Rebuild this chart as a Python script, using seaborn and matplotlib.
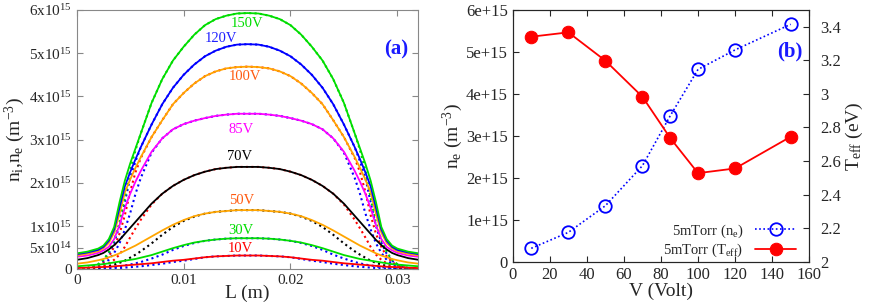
import numpy as np
import pandas as pd
import matplotlib
matplotlib.use("Agg")
import matplotlib.pyplot as plt
import seaborn as sns

# ---- (a) density profiles, values in 1e15 m^-3 ----
L_m = [0.0, 0.001, 0.002, 0.0025, 0.003, 0.0035, 0.004, 0.0045, 0.005, 0.0055, 0.006,
       0.007, 0.008, 0.009, 0.010, 0.011, 0.012, 0.013, 0.014, 0.015, 0.016,
       0.017, 0.018, 0.019, 0.020, 0.021, 0.022, 0.023, 0.024, 0.025, 0.026,
       0.0265, 0.027, 0.0275, 0.028, 0.0285, 0.029, 0.0295, 0.030, 0.031, 0.032]

ni_150 = [0.37, 0.41, 0.48, 0.55, 0.70, 0.98, 1.55, 2.05, 2.45, 2.80, 3.15, 3.85, 4.40, 4.83,
          5.15, 5.43, 5.65, 5.79, 5.87, 5.92, 5.93,
          5.92, 5.87, 5.79, 5.65, 5.43, 5.15, 4.83, 4.40, 3.85, 3.15, 2.80, 2.45, 2.05, 1.55,
          0.98, 0.70, 0.55, 0.48, 0.41, 0.37]
ni_120 = [0.35, 0.39, 0.45, 0.52, 0.66, 0.92, 1.42, 1.92, 2.25, 2.55, 2.83, 3.35, 3.82, 4.20,
          4.50, 4.74, 4.93, 5.06, 5.15, 5.20, 5.21,
          5.20, 5.15, 5.06, 4.93, 4.74, 4.50, 4.20, 3.82, 3.35, 2.83, 2.55, 2.25, 1.92, 1.42,
          0.92, 0.66, 0.52, 0.45, 0.39, 0.35]
ni_100 = [0.32, 0.36, 0.42, 0.49, 0.61, 0.85, 1.28, 1.78, 2.08, 2.35, 2.60, 3.06, 3.45, 3.82,
          4.08, 4.30, 4.47, 4.58, 4.65, 4.68, 4.69,
          4.68, 4.65, 4.58, 4.47, 4.30, 4.08, 3.82, 3.45, 3.06, 2.60, 2.35, 2.08, 1.78, 1.28,
          0.85, 0.61, 0.49, 0.42, 0.36, 0.32]
ni_85 = [0.29, 0.32, 0.38, 0.44, 0.52, 0.70, 1.02, 1.42, 1.75, 2.03, 2.28, 2.72, 3.03, 3.24,
         3.36, 3.44, 3.50, 3.55, 3.58, 3.60, 3.60,
         3.60, 3.58, 3.55, 3.50, 3.44, 3.36, 3.24, 3.03, 2.72, 2.28, 2.03, 1.75, 1.42, 1.02,
         0.70, 0.52, 0.44, 0.38, 0.32, 0.29]
ni_70 = [0.22, 0.26, 0.33, 0.38, 0.46, 0.56, 0.68, 0.82, 0.96, 1.10, 1.24, 1.52, 1.75, 1.93,
         2.07, 2.18, 2.26, 2.32, 2.35, 2.37, 2.37,
         2.37, 2.35, 2.32, 2.26, 2.18, 2.07, 1.93, 1.75, 1.52, 1.24, 1.10, 0.96, 0.82, 0.68,
         0.56, 0.46, 0.38, 0.33, 0.26, 0.22]
ni_50 = [0.13, 0.16, 0.21, 0.24, 0.28, 0.32, 0.37, 0.43, 0.49, 0.55, 0.62, 0.76, 0.90, 1.03,
         1.14, 1.23, 1.29, 1.33, 1.35, 1.37, 1.37,
         1.37, 1.35, 1.33, 1.29, 1.23, 1.14, 1.03, 0.90, 0.76, 0.62, 0.55, 0.49, 0.43, 0.37,
         0.32, 0.28, 0.24, 0.21, 0.16, 0.13]
ni_30 = [0.07, 0.09, 0.11, 0.12, 0.14, 0.16, 0.18, 0.20, 0.22, 0.24, 0.27, 0.33, 0.41, 0.49,
         0.56, 0.62, 0.66, 0.69, 0.71, 0.72, 0.72,
         0.72, 0.71, 0.69, 0.66, 0.62, 0.56, 0.49, 0.41, 0.33, 0.27, 0.24, 0.22, 0.20, 0.18,
         0.16, 0.14, 0.12, 0.11, 0.09, 0.07]
ni_10 = [0.03, 0.04, 0.05, 0.055, 0.06, 0.07, 0.08, 0.09, 0.10, 0.11, 0.12, 0.14, 0.17, 0.20,
         0.22, 0.25, 0.28, 0.30, 0.31, 0.32, 0.32,
         0.32, 0.31, 0.30, 0.28, 0.25, 0.22, 0.20, 0.17, 0.14, 0.12, 0.11, 0.10, 0.09, 0.08,
         0.07, 0.06, 0.055, 0.05, 0.04, 0.03]

ne_150 = [0.00, 0.03, 0.12, 0.22, 0.40, 0.68, 1.08, 1.65, 2.30, 2.76, 3.15, 3.85, 4.40, 4.83,
          5.15, 5.43, 5.65, 5.79, 5.87, 5.92, 5.93,
          5.92, 5.87, 5.79, 5.65, 5.43, 5.15, 4.83, 4.40, 3.85, 3.15, 2.76, 2.30, 1.65, 1.08,
          0.68, 0.40, 0.22, 0.12, 0.03, 0.00]
ne_120 = [0.00, 0.03, 0.11, 0.20, 0.36, 0.62, 1.00, 1.55, 2.12, 2.50, 2.83, 3.35, 3.82, 4.20,
          4.50, 4.74, 4.93, 5.06, 5.15, 5.20, 5.21,
          5.20, 5.15, 5.06, 4.93, 4.74, 4.50, 4.20, 3.82, 3.35, 2.83, 2.50, 2.12, 1.55, 1.00,
          0.62, 0.36, 0.20, 0.11, 0.03, 0.00]
ne_100 = [0.00, 0.02, 0.09, 0.17, 0.30, 0.52, 0.82, 1.25, 1.80, 2.25, 2.58, 3.06, 3.45, 3.82,
          4.08, 4.30, 4.47, 4.58, 4.65, 4.68, 4.69,
          4.68, 4.65, 4.58, 4.47, 4.30, 4.08, 3.82, 3.45, 3.06, 2.58, 2.25, 1.80, 1.25, 0.82,
          0.52, 0.30, 0.17, 0.09, 0.02, 0.00]
ne_85 = [0.00, 0.02, 0.07, 0.13, 0.22, 0.38, 0.60, 0.92, 1.30, 1.75, 2.12, 2.70, 3.03, 3.24,
         3.36, 3.44, 3.50, 3.55, 3.58, 3.60, 3.60,
         3.60, 3.58, 3.55, 3.50, 3.44, 3.36, 3.24, 3.03, 2.70, 2.12, 1.75, 1.30, 0.92, 0.60,
         0.38, 0.22, 0.13, 0.07, 0.02, 0.00]
ne_70 = [0.00, 0.02, 0.05, 0.09, 0.14, 0.22, 0.34, 0.52, 0.74, 0.95, 1.15, 1.50, 1.75, 1.93,
         2.07, 2.18, 2.26, 2.32, 2.35, 2.37, 2.37,
         2.37, 2.35, 2.32, 2.26, 2.18, 2.07, 1.93, 1.75, 1.50, 1.15, 0.95, 0.74, 0.52, 0.34,
         0.22, 0.14, 0.09, 0.05, 0.02, 0.00]
ne_50 = [0.00, 0.01, 0.04, 0.06, 0.08, 0.11, 0.15, 0.20, 0.27, 0.34, 0.42, 0.60, 0.80, 0.98,
         1.12, 1.22, 1.29, 1.33, 1.35, 1.37, 1.37,
         1.37, 1.35, 1.33, 1.29, 1.22, 1.12, 0.98, 0.80, 0.60, 0.42, 0.34, 0.27, 0.20, 0.15,
         0.11, 0.08, 0.06, 0.04, 0.01, 0.00]
ne_30 = [0.00, 0.01, 0.02, 0.03, 0.04, 0.05, 0.07, 0.09, 0.11, 0.14, 0.17, 0.25, 0.34, 0.45,
         0.54, 0.61, 0.66, 0.69, 0.71, 0.72, 0.72,
         0.72, 0.71, 0.69, 0.66, 0.61, 0.54, 0.45, 0.34, 0.25, 0.17, 0.14, 0.11, 0.09, 0.07,
         0.05, 0.04, 0.03, 0.02, 0.01, 0.00]
ne_10 = [0.00, 0.00, 0.01, 0.015, 0.02, 0.025, 0.03, 0.04, 0.05, 0.06, 0.07, 0.10, 0.13, 0.17,
         0.20, 0.24, 0.28, 0.30, 0.31, 0.32, 0.32,
         0.32, 0.31, 0.30, 0.28, 0.24, 0.20, 0.17, 0.13, 0.10, 0.07, 0.06, 0.05, 0.04, 0.03,
         0.025, 0.02, 0.015, 0.01, 0.00, 0.00]

volt_labels = ["10V", "30V", "50V", "70V", "85V", "100V", "120V", "150V"]
label_x = [0.0153, 0.0154, 0.0154, 0.0152, 0.0154, 0.0157, 0.0135, 0.0159]
label_y = [0.48e15, 0.91e15, 1.59e15, 2.61e15, 3.24e15, 4.47e15, 5.35e15, 5.69e15]

ytick_vals_a = [0, 5e14, 1e15, 2e15, 3e15, 4e15, 5e15, 6e15]
ytick_labels_a = ["0", r"5x10$^{14}$", r"1x10$^{15}$", r"2x10$^{15}$", r"3x10$^{15}$",
                  r"4x10$^{15}$", r"5x10$^{15}$", r"6x10$^{15}$"]

# ---- (b) 5 mTorr scan ----
volts = [10, 30, 50, 70, 85, 100, 120, 150]
ne_5mtorr = [0.32e15, 0.70e15, 1.335e15, 2.29e15, 3.48e15, 4.585e15, 5.05e15, 5.66e15]
teff_5mtorr = [3.341, 3.367, 3.198, 2.983, 2.737, 2.528, 2.556, 2.745]

sns.set_style("ticks")
plt.rcParams["font.family"] = ["Liberation Serif", "DejaVu Serif"]
plt.rcParams["mathtext.fontset"] = "custom"
plt.rcParams["mathtext.rm"] = "Liberation Serif"
plt.rcParams["mathtext.it"] = "Liberation Serif"
plt.rcParams["mathtext.default"] = "regular"

fig = plt.figure(figsize=(8.72, 3.04), dpi=100)
ax1 = fig.add_axes([0.088, 0.114, 0.391, 0.853])
ax2 = fig.add_axes([0.588, 0.139, 0.340, 0.828])

GREEN = "#00dd00"
ORANGE = "#ffa500"
curves = [
    (ni_10, ne_10, "#ff0000", "#0000ff", "#ff0000"),
    (ni_30, ne_30, GREEN, "#0000ff", GREEN),
    (ni_50, ne_50, ORANGE, "#000000", "#ff5a10"),
    (ni_70, ne_70, "#000000", "#ff0000", "#000000"),
    (ni_85, ne_85, "#ff00ff", "#0000ff", "#ff00ff"),
    (ni_100, ne_100, ORANGE, "#ff0000", "#ff5a10"),
    (ni_120, ne_120, "#0000ff", "#0000ff", "#2020ff"),
    (ni_150, ne_150, GREEN, GREEN, GREEN),
]
L = np.array(L_m)
# electron densities (dotted) underneath, ion densities (solid) on top
for ni, ne, c_ni, c_ne, c_lab in curves:
    sns.lineplot(x=L, y=np.array(ne) * 1e15, ax=ax1, color=c_ne, lw=1.5,
                 linestyle=(0, (1, 1.6)))
for ni, ne, c_ni, c_ne, c_lab in curves:
    sns.lineplot(x=L, y=np.array(ni) * 1e15, ax=ax1, color=c_ni, lw=1.3)
for (ni, ne, c_ni, c_ne, c_lab), txt, lx, ly in zip(curves, volt_labels, label_x, label_y):
    ax1.text(lx, ly, txt, color=c_lab, fontsize=10.5, ha="center", va="center")

ax1.text(0.0299, 5.08e15, "(a)", color="#1a1aff", fontsize=15, fontweight="bold",
         ha="center", va="center")
ax1.set_xlim(0, 0.0319)
ax1.set_ylim(0, 6e15)
ax1.set_xticks([0, 0.01, 0.02, 0.03])
ax1.set_xticklabels(["0", "0.01", "0.02", "0.03"])
ax1.set_yticks(ytick_vals_a)
ax1.set_yticklabels(ytick_labels_a)
ax1.set_xlabel("L (m)", fontsize=14, labelpad=-1)
ax1.set_ylabel(r"n$_{\mathregular{i}}$,n$_{\mathregular{e}}$ (m$^{-3}$)", fontsize=14, labelpad=1)
ax1.tick_params(direction="in", labelsize=11, top=True, right=True, length=4, color="#888888")
ax1.tick_params(axis="x", pad=3)
for sp in ax1.spines.values():
    sp.set_color("#888888")

# ---- right panel ----
sns.lineplot(x=volts, y=ne_5mtorr, ax=ax2, color="#0000ff", lw=1.2,
             linestyle=(0, (1, 1.5)), marker="o", markersize=9, markerfacecolor="none",
             markeredgecolor="#0000ff", markeredgewidth=1.3, label=r"5mTorr (n$_e$)")
ax2r = ax2.twinx()
sns.lineplot(x=volts, y=teff_5mtorr, ax=ax2r, color="#ff0000", lw=1.3, marker="o",
             markersize=9, markeredgecolor="#ff0000", label=r"5mTorr (T$_{eff}$)")

ax2.set_xlim(0, 160)
ax2.set_ylim(0, 6e15)
ax2r.set_ylim(2, 3.5)
ax2.set_xticks(np.arange(0, 161, 20))
ax2.set_yticks([0, 1e15, 2e15, 3e15, 4e15, 5e15, 6e15])
ax2.set_yticklabels(["0", "1e+15", "2e+15", "3e+15", "4e+15", "5e+15", "6e+15"])
ax2r.set_yticks([2, 2.2, 2.4, 2.6, 2.8, 3, 3.2, 3.4])
ax2r.set_yticklabels(["2", "2.2", "2.4", "2.6", "2.8", "3", "3.2", "3.4"])
ax2.set_xlabel("V (Volt)", fontsize=14, labelpad=0)
ax2.set_ylabel(r"n$_e$ (m$^{-3}$)", fontsize=14, labelpad=1)
ax2r.set_ylabel(r"T$_{eff}$ (eV)", fontsize=14, labelpad=2)
ax2.tick_params(direction="in", labelsize=12, top=True, length=4)
ax2r.tick_params(direction="in", labelsize=12, length=4, pad=8)
ax2.text(149.5, 5.0e15, "(b)", color="#1a1aff", fontsize=15, fontweight="bold",
         ha="center", va="center")

h1, l1 = ax2.get_legend_handles_labels()
h2, l2 = ax2r.get_legend_handles_labels()
if ax2r.get_legend() is not None:
    ax2r.get_legend().remove()
ax2.legend(h1 + h2, l1 + l2, loc="lower right", bbox_to_anchor=(0.985, -0.025),
           frameon=False, markerfirst=False, fontsize=10.5, handlelength=2.8,
           labelspacing=0.15, borderaxespad=0.2)

fig.savefig("out.png", dpi=100)
